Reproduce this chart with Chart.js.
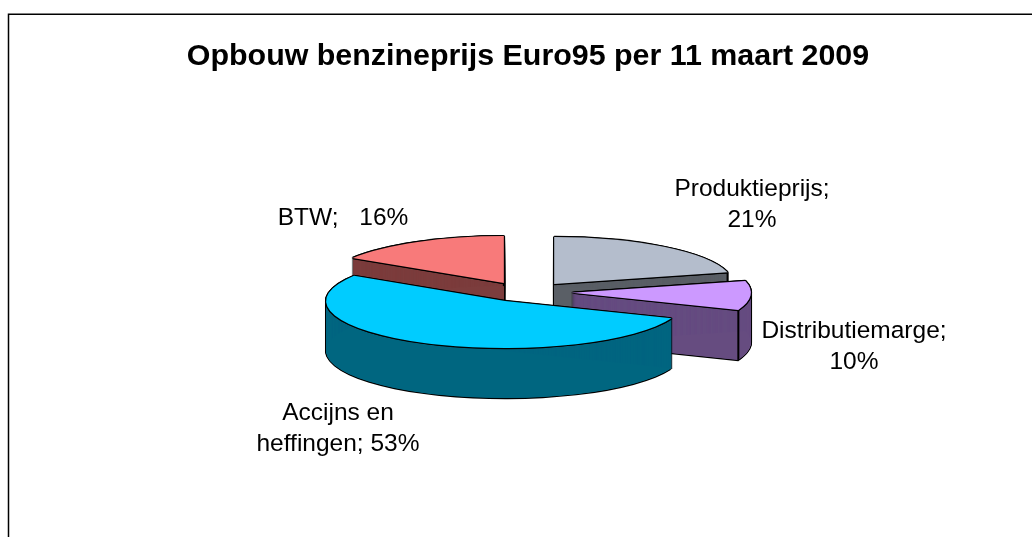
<!DOCTYPE html>
<html>
<head>
<meta charset="utf-8">
<style>html,body{margin:0;padding:0;background:#fff;overflow:hidden}canvas{display:block}</style>
<script src="https://cdn.jsdelivr.net/npm/chart.js@4/dist/chart.umd.js"></script>
</head>
<body>
<canvas id="c" width="1032" height="537"></canvas>
<script>
const chartTitle = 'Opbouw benzineprijs Euro95 per 11 maart 2009';
const categories = ['Produktieprijs', 'Distributiemarge', 'Accijns en heffingen', 'BTW'];
const values = [21, 10, 53, 16];
const topColors = ['#b4bdcc', '#cc99ff', '#00ccff', '#f87a7a'];
const wallColors = ['#5a5f66', '#664c80', '#006680', '#7c3d3d'];

// layout of the 3D projection (pixels)
const CENTER = {x: 526, y: 292};
const RADIUS_X = 179, RADIUS_Y = 47, DEPTH = 50, EXPLODE = 46;
const PAINT_ORDER = [3, 0, 1, 2];
const LABEL_LAYOUT = [
  {x: 752, y: 189, breakAfter: 1},
  {x: 854, y: 331, breakAfter: 1},
  {x: 338, y: 413.5, breakAfter: 2},
  {x: 343, y: 218, breakAfter: 9}
];
const LABEL_FONT = '24.5px "Liberation Sans", Arial, sans-serif';
const LINE_H = 31;

function labelLines(i) {
  const words = (categories[i] + ';').split(' ');
  const pct = values[i] + '%';
  const layout = LABEL_LAYOUT[i];
  if (layout.breakAfter === 9) return [words.join(' ') + ' ' + pct];
  if (layout.breakAfter === 2) return [words.slice(0, 2).join(' '), words.slice(2).join(' ') + ' ' + pct];
  return [words.join(' '), pct];
}

const pie3d = {
  id: 'pie3d',
  beforeDraw(chart) {
    const ctx = chart.ctx;
    ctx.save();
    ctx.strokeStyle = '#000';
    ctx.lineWidth = 1.5;
    ctx.beginPath();
    ctx.moveTo(8.5, 537);
    ctx.lineTo(8.5, 14.25);
    ctx.lineTo(1032, 14.25);
    ctx.stroke();
    ctx.restore();
  },
  beforeDatasetDraw(chart, args) {
    const ctx = chart.ctx;
    const arcs = args.meta.data;
    const S = RADIUS_X / arcs[0].outerRadius;
    const SY = RADIUS_Y / arcs[0].outerRadius;
    const origin = el => {
      const mid = (el.startAngle + el.endAngle) / 2;
      return {
        x: CENTER.x + Math.cos(mid) * EXPLODE,
        y: CENTER.y + Math.sin(mid) * EXPLODE * RADIUS_Y / RADIUS_X * 0.84
      };
    };
    const put = (el, color, dx, dy) => {
      const g = Object.create(el);
      g.options = Object.assign({}, el.options, {backgroundColor: color, borderWidth: 0});
      const o = origin(el);
      ctx.save();
      ctx.translate(o.x + dx, o.y + dy);
      ctx.scale(S, SY);
      ctx.translate(-el.x, -el.y);
      g.draw(ctx);
      ctx.restore();
    };
    const W = 1.2;
    const ring = [[-W, 0], [W, 0], [0, -W], [0, W], [-W * .7, -W * .7], [W * .7, -W * .7], [-W * .7, W * .7], [W * .7, W * .7]];
    PAINT_ORDER.forEach(i => {
      const el = arcs[i];
      for (let d = 0; d <= DEPTH; d += 1) {
        put(el, '#000', -W, d);
        put(el, '#000', W, d);
      }
      put(el, '#000', 0, DEPTH + W);
      for (let d = 0; d <= DEPTH; d += 0.25) put(el, wallColors[i], 0, d);
      // vertical edge at the slice's leading corner
      const o = origin(el);
      const px = o.x + Math.cos(el.endAngle) * RADIUS_X;
      const py = o.y + Math.sin(el.endAngle) * RADIUS_Y;
      ctx.save();
      ctx.strokeStyle = '#000';
      ctx.lineWidth = 2;
      ctx.beginPath();
      ctx.moveTo(px, py);
      ctx.lineTo(px, py + DEPTH);
      ctx.stroke();
      ctx.restore();
      ring.forEach(r => put(el, '#000', r[0], r[1]));
      put(el, topColors[i], 0, 0);
    });
    return false;
  },
  afterDraw(chart) {
    const ctx = chart.ctx;
    ctx.save();
    ctx.fillStyle = '#000';
    ctx.font = LABEL_FONT;
    ctx.textAlign = 'center';
    ctx.textBaseline = 'middle';
    categories.forEach((c, i) => {
      ctx.wordSpacing = LABEL_LAYOUT[i].breakAfter === 9 ? '14px' : '0px';
      labelLines(i).forEach((line, j) => {
        ctx.fillText(line, LABEL_LAYOUT[i].x, LABEL_LAYOUT[i].y + j * LINE_H);
      });
    });
    ctx.restore();
  }
};

new Chart(document.getElementById('c'), {
  type: 'pie',
  data: {
    labels: categories,
    datasets: [{
      data: values,
      backgroundColor: topColors,
      borderWidth: 0
    }]
  },
  options: {
    responsive: false,
    animation: false,
    layout: {padding: {top: 23, left: 24, right: 0, bottom: 9}},
    plugins: {
      legend: {display: false},
      tooltip: {enabled: false},
      title: {
        display: true,
        text: chartTitle,
        color: '#000',
        font: {family: '"Liberation Sans", Arial, sans-serif', size: 30.4, weight: 'bold'},
        padding: {top: 15, bottom: 6}
      }
    }
  },
  plugins: [pie3d]
});
</script>
</body>
</html>
